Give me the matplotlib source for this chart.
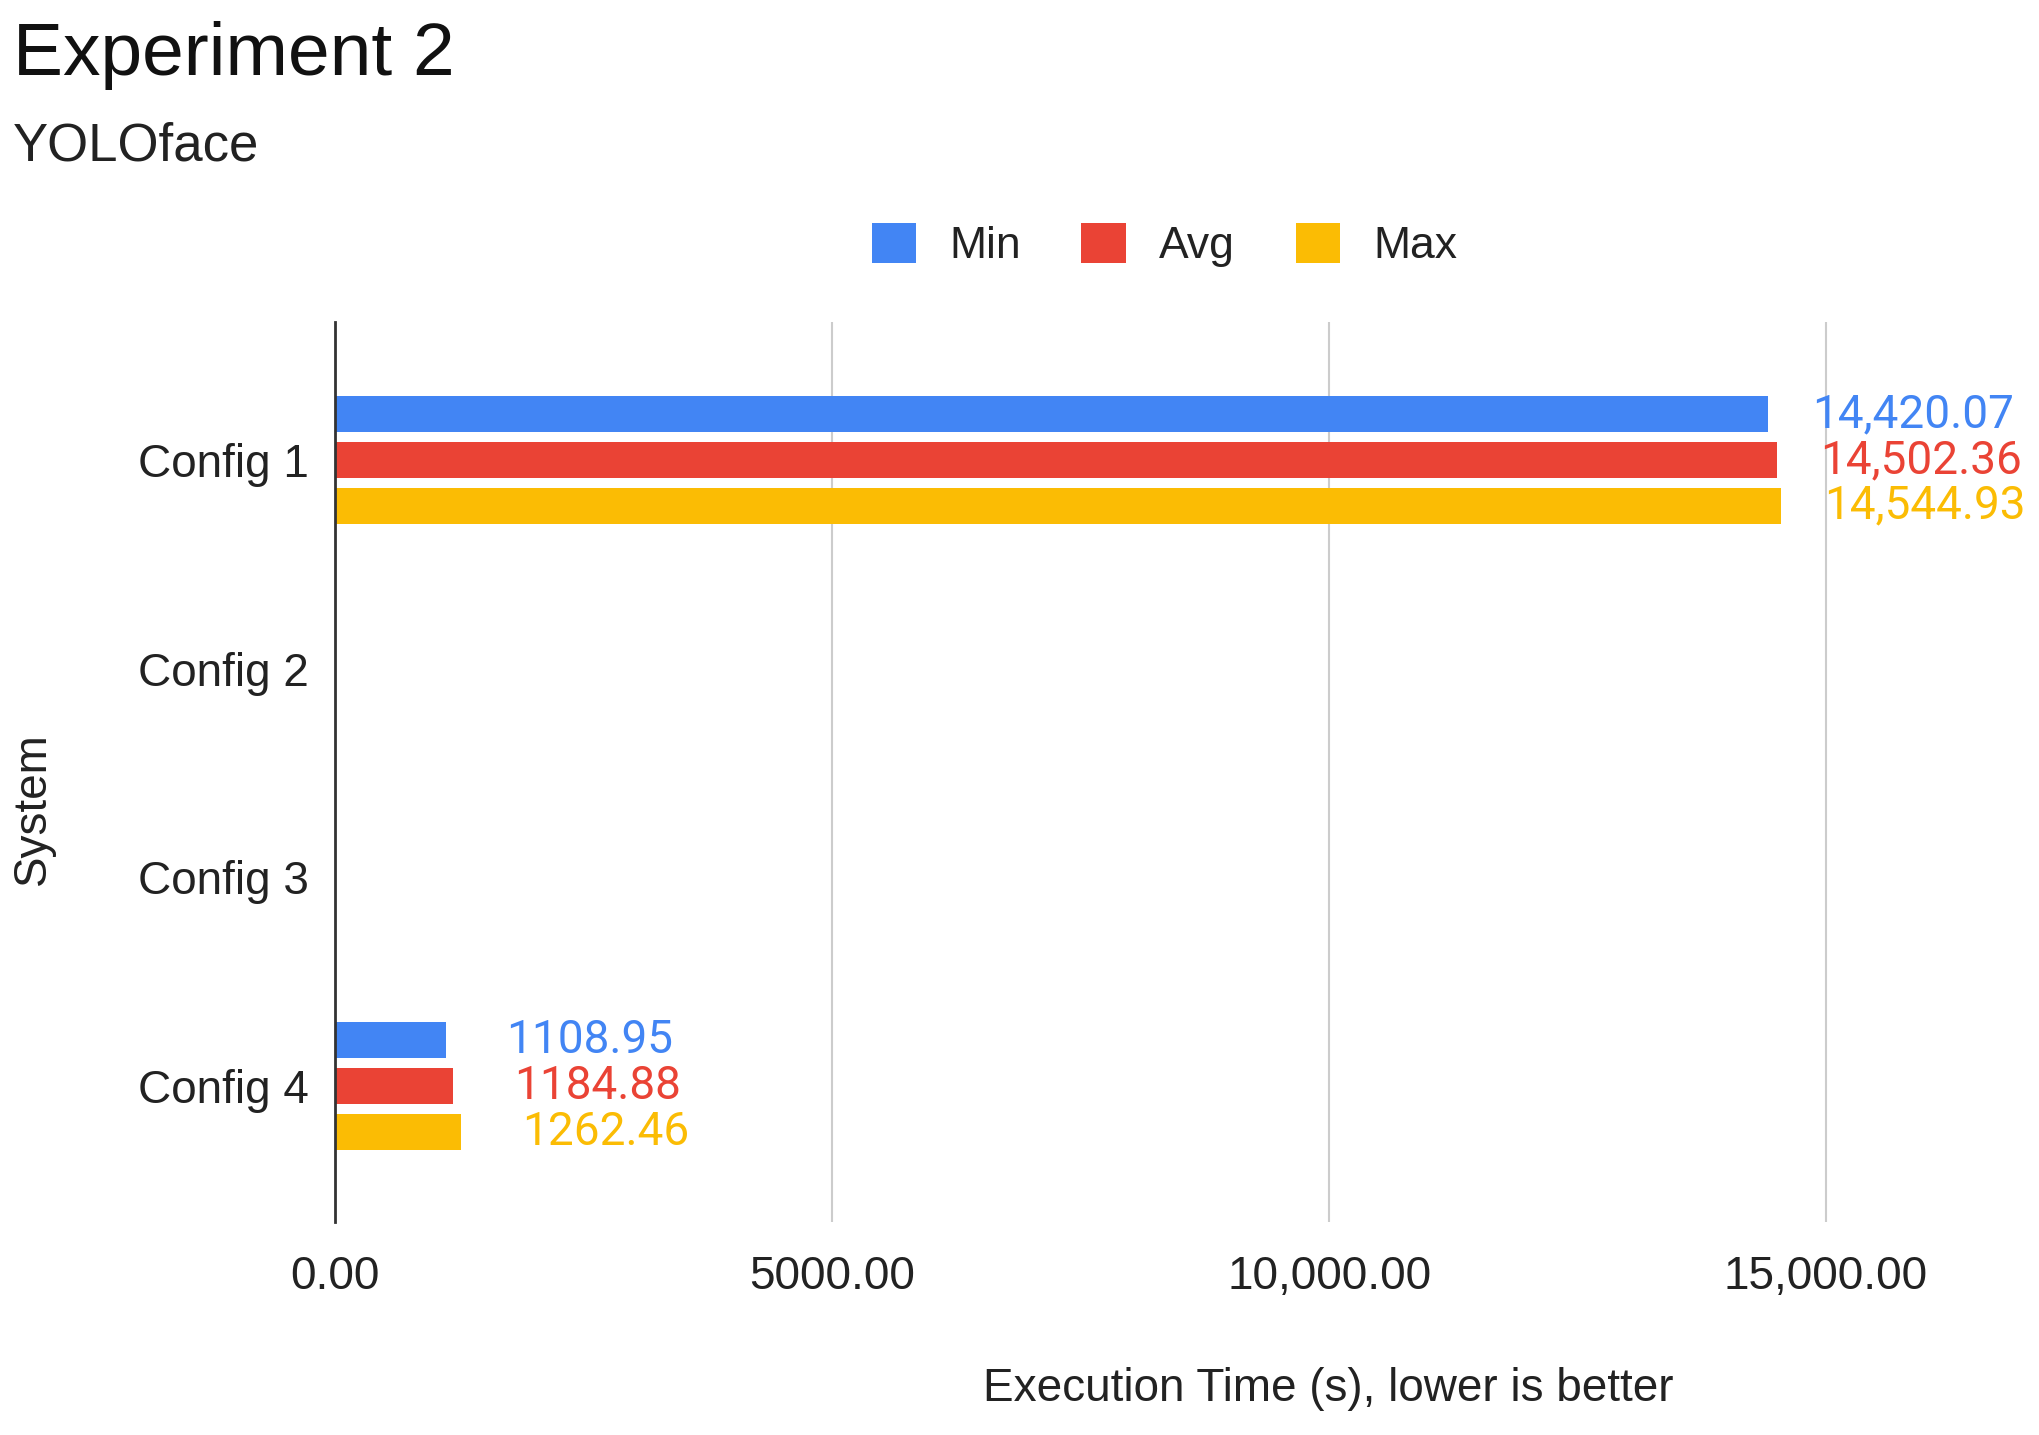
import numpy as np
import matplotlib.pyplot as plt

systems = ['Config 1', 'Config 2', 'Config 3', 'Config 4']
min_times = [14420.07, np.nan, np.nan, 1108.95]
avg_times = [14502.36, np.nan, np.nan, 1184.88]
max_times = [14544.93, np.nan, np.nan, 1262.46]
series_names = ['Min', 'Avg', 'Max']
colors = ['#4285F4', '#EA4335', '#FBBC04']
xticks = [0, 5000, 10000, 15000]
xtick_labels = ['0.00', '5000.00', '10,000.00', '15,000.00']

plt.rcParams['font.family'] = ['Liberation Sans', 'DejaVu Sans']

fig = plt.figure(figsize=(20.39, 14.35), dpi=100)
ax = fig.add_axes([0.1645, 0.1484, 0.8285, 0.6272])

y = np.arange(len(systems))
offsets = [-0.22, 0.0, 0.22]
bars = []
for vals, off, col, name in zip([min_times, avg_times, max_times], offsets, colors, series_names):
    b = ax.barh(y + off, vals, height=0.175, color=col, label=name, zorder=3)
    bars.append(b)
    for yy, v in zip(y, vals):
        if np.isnan(v):
            continue
        txt = '{:,.2f}'.format(v) if v >= 10000 else '{:.2f}'.format(v)
        ax.annotate(txt, (v, yy + off), xytext=(104, 0), textcoords='offset points',
                    ha='center', va='center', color=col, fontsize=33, family=['Roboto', 'DejaVu Sans'])

ax.set_xlim(0, 17000)
ax.set_ylim(3.652, -0.661)
ax.set_yticks(y)
ax.set_yticklabels(systems, fontsize=33, color='#222222')
ax.set_xticks(xticks)
ax.set_xticklabels(xtick_labels, fontsize=33, color='#222222')
ax.tick_params(axis='y', length=0, pad=19)
ax.tick_params(axis='x', length=0, pad=24)
ax.grid(axis='x', color='#cccccc', linewidth=1.5, zorder=0)
for s in ['top', 'right', 'bottom']:
    ax.spines[s].set_visible(False)
ax.spines['left'].set_color('#333333')
ax.spines['left'].set_linewidth(2)
ax.spines['left'].set_zorder(4)

fig.text(0.0064, 0.9477, 'Experiment 2', fontsize=54, color='#111111', va='baseline')
fig.text(0.0064, 0.8885, 'YOLOface', fontsize=38, color='#222222', va='baseline')
fig.text(0.6513, 0.032, 'Execution Time (s), lower is better', fontsize=33, color='#222222',
         ha='center', va='center')
fig.text(0.016, 0.4362, 'System', fontsize=33, color='#222222', rotation=90,
         ha='center', va='center')

fig.legend(handles=bars, labels=series_names, loc='center', bbox_to_anchor=(0.571, 0.829),
           ncol=3, frameon=False, fontsize=32, handlelength=1.0, handleheight=1.0,
           handletextpad=0.74, columnspacing=1.37, labelcolor='#222222')

plt.savefig('out.png', dpi=100)
